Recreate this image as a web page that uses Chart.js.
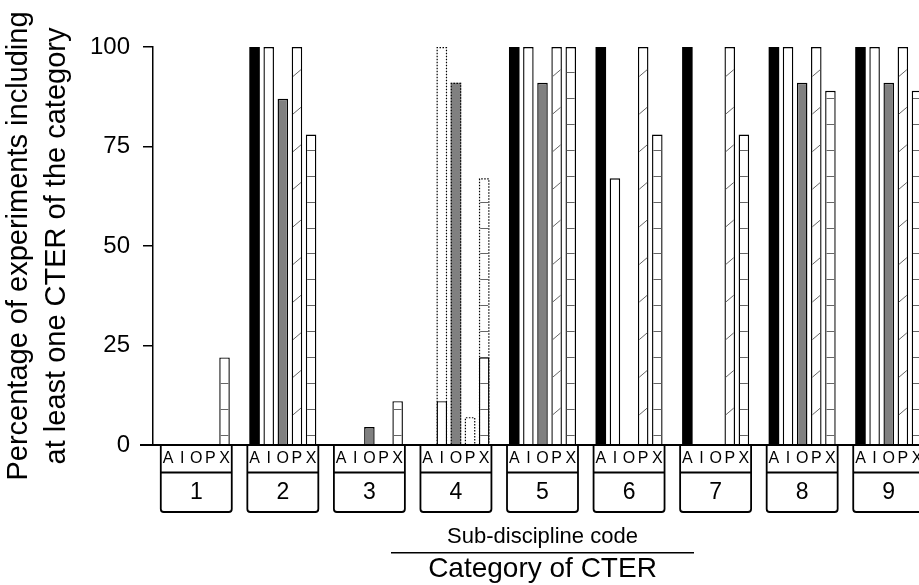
<!DOCTYPE html>
<html><head><meta charset="utf-8">
<script src="https://cdn.jsdelivr.net/npm/chart.js@4.4.1/dist/chart.umd.min.js"></script>
<style>
html,body{margin:0;padding:0;background:#fff;overflow:hidden;width:919px;height:585px}
canvas{display:block}
</style></head>
<body>
<canvas id="c" width="932" height="585" style="width:932px;height:585px"></canvas>
<script>
// ---- data ----
const categories = ['1','2','3','4','5','6','7','8','9'];
const subCodes = ['A','I','O','P','X'];
const valuesA = [0, 100, 0,   0,  100, 100, 100, 100, 100];
const valuesI = [0, 100, 0,   11, 100, 67,  0,   100, 100];
const valuesO = [0, 87,  4.5, 0,  91,  0,   0,   91,  91];
const valuesP = [0, 100, 0,   0,  100, 100, 100, 100, 100];
const valuesX = [22, 78, 11,  22, 100, 78,  78,  89,  89];
// dotted-outline bars (category 4 only)
const dottedI = [null, null, null, 100,  null, null, null, null, null];
const dottedO = [null, null, null, 91,   null, null, null, null, null];
const dottedP = [null, null, null, 7,    null, null, null, null, null];
const dottedX = [null, null, null, 67,   null, null, null, null, null];
const yTicks = [0, 25, 50, 75, 100];
const yTitle = ['Percentage of experiments including', 'at least one CTER of the category'];
const xTitle = 'Category of CTER';
const subTitle = 'Sub-discipline code';

const FONT = "'Liberation Sans', Arial, sans-serif";
const GRAY = '#808080';

const decor = {
  id: 'decor',
  afterDatasetDraw(chart, args) {
    const ds = chart.data.datasets[args.index];
    const ctx = chart.ctx;
    args.meta.data.forEach((bar, i) => {
      const v = ds.data[i];
      if (v == null || v <= 0) return;
      const p = bar.getProps(['x', 'y', 'base', 'width'], true);
      const l = p.x - p.width / 2, r = p.x + p.width / 2;
      const t = Math.min(p.y, p.base), b = Math.max(p.y, p.base);
      if (ds.patternKind) {
        ctx.save();
        ctx.beginPath();
        ctx.rect(l + 1.3, t + 1.3, r - l - 2.6, b - t - 1.3);
        ctx.clip();
        ctx.strokeStyle = '#666';
        ctx.lineWidth = 1;
        ctx.beginPath();
        if (ds.patternKind === 'ladder') {
          for (let yy = b - 9.5; yy > t; yy -= 25.9) {
            const yr = Math.round(yy) + 0.5;
            ctx.moveTo(l, yr); ctx.lineTo(r, yr);
          }
        } else {
          for (let yy = b + 9.3; yy > t - 20; yy -= 37.6) {
            ctx.moveTo(l, yy); ctx.lineTo(r, yy - 0.85 * (r - l));
          }
        }
        ctx.stroke();
        ctx.restore();
      }
      if (ds.dotted) {
        ctx.save();
        ctx.strokeStyle = '#000';
        ctx.lineWidth = 1.2;
        ctx.setLineDash([1.5, 1.5]);
        ctx.beginPath();
        ctx.moveTo(l + 0.6, b); ctx.lineTo(l + 0.6, t + 0.6);
        ctx.lineTo(r - 0.6, t + 0.6); ctx.lineTo(r - 0.6, b);
        ctx.stroke();
        ctx.restore();
      }
    });
  },
  afterDraw(chart) {
    const {ctx, chartArea: {left, right, bottom}} = chart;
    const xs = chart.scales.x;
    const step = xs.getPixelForValue(1) - xs.getPixelForValue(0);
    const half = step * 0.41;
    ctx.save();
    ctx.strokeStyle = '#000';
    ctx.lineWidth = 1.8;
    ctx.beginPath();
    ctx.moveTo(left - 13, bottom); ctx.lineTo(right, bottom);
    ctx.stroke();
    categories.forEach((c, i) => {
      const cx = xs.getPixelForValue(i);
      const x0 = cx - half, x1 = cx + half;
      const y0 = bottom, y1 = bottom + 27.5, y2 = bottom + 67;
      ctx.beginPath();
      ctx.moveTo(x0, y0); ctx.lineTo(x0, y2 - 3);
      ctx.quadraticCurveTo(x0, y2, x0 + 3, y2);
      ctx.lineTo(x1 - 3, y2);
      ctx.quadraticCurveTo(x1, y2, x1, y2 - 3);
      ctx.lineTo(x1, y0);
      ctx.moveTo(x0, y1); ctx.lineTo(x1, y1);
      ctx.stroke();
    });
    ctx.fillStyle = '#000';
    ctx.font = '16px ' + FONT;
    ctx.textAlign = 'center';
    ctx.textBaseline = 'middle';
    subCodes.forEach((code, k) => {
      chart.getDatasetMeta(k).data.forEach(bar => {
        ctx.fillText(code, bar.x, bottom + 14);
      });
    });
    const mid = (left + right) / 2;
    ctx.font = '22px ' + FONT;
    ctx.fillText(subTitle, mid, 537);
    ctx.lineWidth = 1.5;
    ctx.beginPath();
    ctx.moveTo(mid - 151.5, 552.7); ctx.lineTo(mid + 151.5, 552.7);
    ctx.stroke();
    ctx.restore();
  }
};

function solid(code, data, fill, kind, bw) {
  return {label: code, data, stack: code, backgroundColor: fill, borderColor: '#000',
          borderWidth: bw, borderSkipped: 'start', patternKind: kind};
}
function dotted(code, data, fill, kind) {
  return {label: code + ' (dotted)', data, stack: code, backgroundColor: fill, borderColor: '#000',
          borderWidth: 0, dotted: true, patternKind: kind};
}

const barOpts = {categoryPercentage: 0.816, barPercentage: 0.745};

new Chart(document.getElementById('c'), {
  type: 'bar',
  data: {
    labels: categories,
    datasets: [
      solid('A', valuesA, '#000', null, 0),
      solid('I', valuesI, '#fff', null, 1.4),
      solid('O', valuesO, GRAY, null, 1.4),
      solid('P', valuesP, '#fff', 'hatch', 1.4),
      solid('X', valuesX, '#fff', 'ladder', 1.4),
      dotted('I', dottedI, '#fff', null),
      dotted('O', dottedO, GRAY, null),
      dotted('P', dottedP, '#fff', 'hatch'),
      dotted('X', dottedX, '#fff', 'ladder')
    ].map(d => Object.assign(d, barOpts))
  },
  options: {
    responsive: false,
    animation: false,
    devicePixelRatio: 1,
    layout: {padding: {top: 47, left: 0, right: 0, bottom: 0}},
    plugins: {legend: {display: false}, tooltip: {enabled: false}},
    scales: {
      x: {
        type: 'category',
        offset: true,
        grid: {display: false, drawTicks: false},
        border: {display: false},
        ticks: {color: '#000', padding: 34, font: {family: FONT, size: 23, lineHeight: 1.2}},
        title: {display: true, text: xTitle, color: '#000', padding: {top: 0, bottom: 0},
                font: {family: FONT, size: 28, lineHeight: 1.1}},
        afterFit(s) { s.height = 140; }
      },
      y: {
        min: 0, max: 100,
        stacked: false,
        afterBuildTicks(s) { s.ticks = yTicks.map(v => ({value: v})); },
        grid: {display: true, drawOnChartArea: false, drawTicks: true, tickLength: 10, color: '#000', lineWidth: 1.5},
        border: {display: true, color: '#000', width: 1.5},
        ticks: {color: '#000', padding: 13, font: {family: FONT, size: 24}},
        title: {display: true, text: yTitle, color: '#000', padding: {top: 0, bottom: 0},
                font: {family: FONT, size: 29, lineHeight: 1.3}},
        afterFit(s) { s.width = 153; }
      }
    }
  },
  plugins: [decor]
});
</script>
</body></html>
